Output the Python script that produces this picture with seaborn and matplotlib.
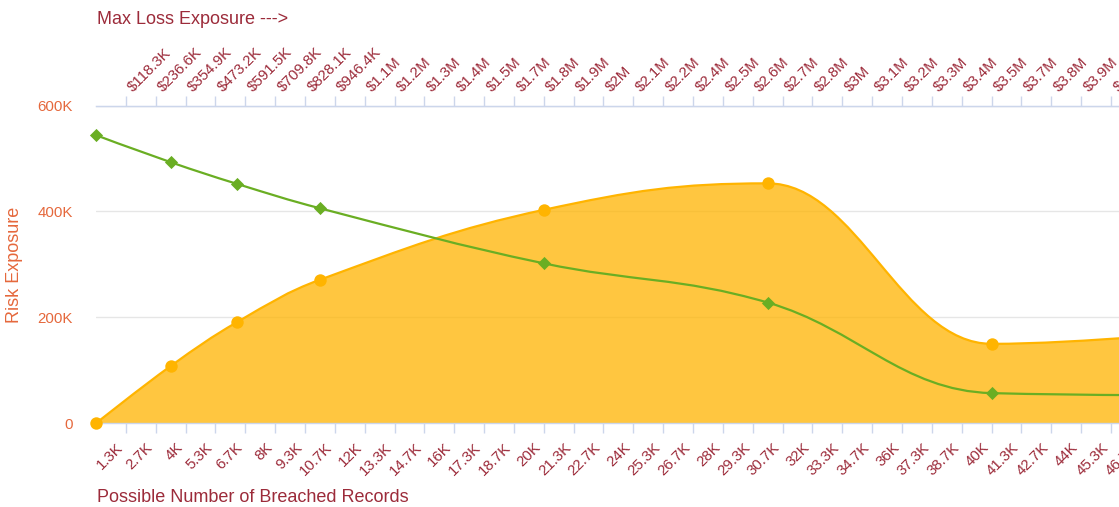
import matplotlib.pyplot as plt
import numpy as np
import pandas as pd
import seaborn as sns
from matplotlib.path import Path
from matplotlib.patches import PathPatch

# values
records = [0, 3333, 6300, 10000, 20000, 30000, 40000, 50000]
risk_exposure = [0, 108000, 191000, 271000, 403000, 453000, 150000, 176000]
tolerance = [544000, 493000, 452000, 406000, 302000, 228000, 57000, 52500]

y_ticks = [0, 200000, 400000, 600000]
y_labels = ['0', '200K', '400K', '600K']

record_labels = ['1.3K', '2.7K', '4K', '5.3K', '6.7K', '8K', '9.3K', '10.7K', '12K',
                 '13.3K', '14.7K', '16K', '17.3K', '18.7K', '20K', '21.3K', '22.7K',
                 '24K', '25.3K', '26.7K', '28K', '29.3K', '30.7K', '32K', '33.3K',
                 '34.7K', '36K', '37.3K', '38.7K', '40K', '41.3K', '42.7K', '44K',
                 '45.3K', '46.7K']
loss_labels = ['$118.3K', '$236.6K', '$354.9K', '$473.2K', '$591.5K', '$709.8K',
               '$828.1K', '$946.4K', '$1.1M', '$1.2M', '$1.3M', '$1.4M', '$1.5M',
               '$1.7M', '$1.8M', '$1.9M', '$2M', '$2.1M', '$2.2M', '$2.4M', '$2.5M',
               '$2.6M', '$2.7M', '$2.8M', '$3M', '$3.1M', '$3.2M', '$3.3M', '$3.4M',
               '$3.5M', '$3.7M', '$3.8M', '$3.9M', '$4M', '$4.1M']
record_step = 4000 / 3

ORANGE = '#ffb400'
GREEN = '#6aae23'
DARK_RED = '#9c2b3a'
LABEL_RED = '#e5683c'
AXIS_BLUE = '#ccd6eb'

sns.set_style('white')
plt.rcParams['font.family'] = ['Liberation Sans', 'DejaVu Sans']


def spline_path(xs, ys, smoothing=1.5):
    # highcharts-style spline: cubic bezier segments with clamped control points
    n = len(xs)
    left = list(zip(xs, ys))
    right = list(zip(xs, ys))
    d = smoothing + 1
    for i in range(1, n - 1):
        x, y = xs[i], ys[i]
        lx, ly = xs[i - 1], ys[i - 1]
        nx, ny = xs[i + 1], ys[i + 1]
        lcx = (smoothing * x + lx) / d
        lcy = (smoothing * y + ly) / d
        rcx = (smoothing * x + nx) / d
        rcy = (smoothing * y + ny) / d
        corr = (rcy - lcy) * (rcx - x) / (rcx - lcx) + y - rcy
        lcy += corr
        rcy += corr
        if lcy > ly and lcy > y:
            lcy = max(ly, y)
            rcy = 2 * y - lcy
        elif lcy < ly and lcy < y:
            lcy = min(ly, y)
            rcy = 2 * y - lcy
        if rcy > ny and rcy > y:
            rcy = max(ny, y)
            lcy = 2 * y - rcy
        elif rcy < ny and rcy < y:
            rcy = min(ny, y)
            lcy = 2 * y - rcy
        left[i] = (lcx, lcy)
        right[i] = (rcx, rcy)
    verts = [(xs[0], ys[0])]
    codes = [Path.MOVETO]
    for i in range(1, n):
        verts += [right[i - 1], left[i], (xs[i], ys[i])]
        codes += [Path.CURVE4] * 3
    return verts, codes


df = pd.DataFrame({'records': records, 'risk': risk_exposure, 'tolerance': tolerance})

fig = plt.figure(figsize=(11.19, 5.07), dpi=100)
ax = fig.add_axes([96 / 1119, 1 - 423.3 / 507, 1119.4 / 1119, 317.8 / 507])

# orange area spline
v, c = spline_path(df['records'].tolist(), df['risk'].tolist())
area_v = v + [(records[-1], 0), (records[0], 0), (records[0], 0)]
area_c = c + [Path.LINETO, Path.LINETO, Path.CLOSEPOLY]
ax.add_patch(PathPatch(Path(area_v, area_c), facecolor=ORANGE, alpha=0.75,
                       edgecolor='none', zorder=2))
ax.add_patch(PathPatch(Path(v, c), facecolor='none', edgecolor=ORANGE, lw=1.6, zorder=3))

# green spline
v2, c2 = spline_path(df['records'].tolist(), df['tolerance'].tolist())
ax.add_patch(PathPatch(Path(v2, c2), facecolor='none', edgecolor=GREEN, lw=1.6, zorder=4))

sns.scatterplot(data=df, x='records', y='risk', ax=ax, color=ORANGE, s=80,
                marker='o', linewidth=0, zorder=5, clip_on=False)
sns.scatterplot(data=df, x='records', y='tolerance', ax=ax, color=GREEN, s=45,
                marker='D', linewidth=0, zorder=6, clip_on=False)

ax.set_xlim(0, 50000)
ax.set_ylim(0, 600000)
ax.set_xlabel('')
ax.set_ylabel('')
ax.set_axisbelow(True)
ax.yaxis.grid(True, color='#e6e6e6', lw=1)
ax.xaxis.grid(False)

for side in ['left', 'right']:
    ax.spines[side].set_visible(False)
for side in ['top', 'bottom']:
    ax.spines[side].set_color(AXIS_BLUE)
    ax.spines[side].set_linewidth(1)

ax.set_yticks(y_ticks)
ax.set_yticklabels(y_labels)
ax.tick_params(axis='y', length=0, pad=16.5, labelsize=10.8, labelcolor=LABEL_RED)

tick_pos = np.arange(1, len(record_labels) + 1) * record_step
ax.set_xticks(tick_pos)
ax.set_xticklabels(record_labels, rotation=45, ha='right', va='top')
ax.tick_params(axis='x', direction='out', length=7.2, width=1, color=AXIS_BLUE,
               pad=5, labelsize=10.8, labelcolor=DARK_RED)

ax_top = ax.twiny()
ax_top.set_xlim(ax.get_xlim())
for side in ['left', 'right', 'bottom']:
    ax_top.spines[side].set_visible(False)
ax_top.spines['top'].set_color(AXIS_BLUE)
top_pos = np.arange(1, len(loss_labels) + 1) * record_step
ax_top.set_xticks(top_pos)
ax_top.set_xticklabels(loss_labels, rotation=45, ha='left', va='bottom')
ax_top.tick_params(axis='x', direction='out', length=7.2, width=1, color=AXIS_BLUE,
                   pad=1, labelsize=10.8, labelcolor=DARK_RED)

fig.text(97 / 1119, 1 - 19 / 507, 'Max Loss Exposure --->', color=DARK_RED,
         fontsize=13, ha='left', va='center')
fig.text(97 / 1119, 1 - 497 / 507, 'Possible Number of Breached Records', color=DARK_RED,
         fontsize=13, ha='left', va='center')
fig.text(15 / 1119, 1 - 265 / 507, 'Risk Exposure', color=LABEL_RED, fontsize=13,
         rotation=90, ha='center', va='center')

fig.savefig('out.png', dpi=100)
